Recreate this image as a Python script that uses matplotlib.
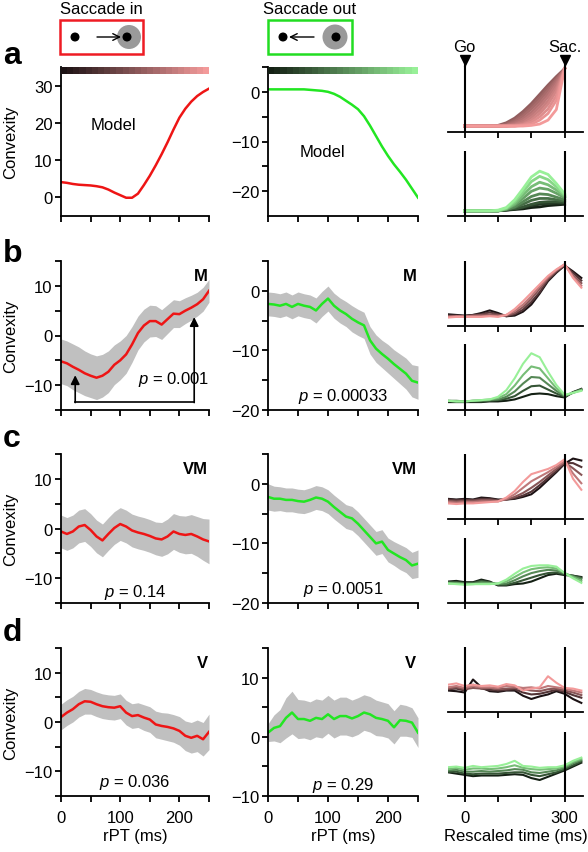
import numpy as np
import matplotlib
matplotlib.use("Agg")
import matplotlib.pyplot as plt
from matplotlib.colors import LinearSegmentedColormap
from matplotlib.patches import Rectangle, Circle

plt.rcParams['font.family'] = ['Liberation Sans', 'DejaVu Sans']
plt.rcParams.update({
    'font.size': 12, 'axes.linewidth': 1.3,
    'xtick.major.width': 1.3, 'ytick.major.width': 1.3,
    'xtick.minor.width': 1.3, 'ytick.minor.width': 1.3,
    'xtick.major.size': 4, 'ytick.major.size': 4,
    'xtick.minor.size': 4, 'ytick.minor.size': 4,
    'mathtext.fontset': 'custom', 'mathtext.rm': 'Liberation Sans',
    'mathtext.it': 'Liberation Sans:italic',
})
nan = np.nan

# ---- convexity vs rPT (ms) ----
rpt = list(range(0, 251, 10))

model_in = [4.1, 3.9, 3.6, 3.4, 3.3, 3.2, 3.0, 2.7, 2.1, 1.3, 0.6, -0.1, -0.1,
            1.0, 3.3, 5.8, 8.6, 11.6, 14.8, 18.2, 21.4, 23.8, 25.7, 27.2, 28.3, 29.2]
model_out = [0.5, 0.5, 0.5, 0.5, 0.5, 0.5, 0.5, 0.4, 0.3, 0.2, 0.0, -0.4, -1.0,
             -1.8, -2.6, -3.5, -4.9, -6.8, -8.9, -11.0, -12.9, -14.6, -16.1, -17.7, -19.5, -21.3]

m_in = [-5.2, -5.6, -6.3, -6.9, -7.6, -8.1, -8.5, -8.1, -7.3, -5.9, -5.0, -3.8, -1.8,
        0.5, 2.0, 2.9, 2.9, 2.2, 3.3, 4.4, 4.3, 5.0, 5.6, 6.3, 7.3, 9.0]
m_in_sem = [4.5, 4.5, 4.6, 4.6, 4.5, 4.4, 4.4, 4.3, 4.2, 4.0, 3.9, 3.8, 3.6,
            3.4, 3.3, 3.2, 3.1, 3.0, 2.9, 2.8, 2.7, 2.6, 2.5, 2.4, 2.4, 2.3]
m_out = [-2.2, -2.3, -2.5, -2.2, -2.7, -2.2, -2.5, -2.7, -3.3, -2.2, -1.3, -2.5, -3.3,
         -3.9, -4.7, -5.3, -5.8, -8.3, -9.7, -10.6, -11.4, -12.3, -13.1, -13.9, -15.1, -15.4]
m_out_sem = [2.0, 2.0, 2.0, 2.0, 2.0, 2.0, 2.0, 2.0, 2.1, 2.1, 2.1, 2.1, 2.1,
             2.1, 2.2, 2.2, 2.2, 2.3, 2.3, 2.3, 2.4, 2.4, 2.5, 2.6, 2.7, 2.8]

vm_in = [-0.6, -1.1, -0.6, 0.4, 0.7, -0.3, -1.6, -2.4, -1.1, 0.1, 0.9, 0.4, -0.4,
         -0.8, -1.1, -1.5, -2.0, -2.2, -1.6, -0.6, -1.1, -1.3, -1.1, -1.6, -2.2, -2.6]
vm_in_sem = [3.3, 3.3, 3.3, 3.3, 3.3, 3.3, 3.3, 3.3, 3.3, 3.3, 3.3, 3.3, 3.3,
             3.3, 3.3, 3.3, 3.3, 3.4, 3.5, 3.6, 3.7, 3.8, 3.9, 4.0, 4.2, 4.5]
vm_out = [-2.2, -2.5, -2.5, -2.7, -2.7, -2.9, -3.0, -2.7, -2.3, -2.5, -3.0, -3.9, -4.7,
          -5.5, -5.8, -6.7, -7.8, -8.9, -10.0, -9.7, -11.1, -11.7, -12.3, -12.8, -13.7, -13.4]
vm_out_sem = [2.2, 2.1, 2.0, 2.0, 2.0, 2.0, 2.0, 2.0, 2.0, 2.0, 2.0, 2.0, 2.0,
              2.0, 2.0, 2.0, 2.0, 2.0, 2.0, 2.0, 2.0, 2.0, 2.1, 2.1, 2.2, 2.3]

v_in = [1.0, 1.9, 2.6, 3.6, 4.2, 4.1, 3.6, 3.2, 3.0, 2.9, 3.2, 1.9, 1.2,
        1.4, 0.9, 0.5, -0.5, -0.8, -1.0, -1.3, -1.8, -2.8, -3.2, -2.8, -3.5, -2.0]
v_in_sem = [2.6, 2.6, 2.6, 2.6, 2.6, 2.5, 2.5, 2.5, 2.5, 2.5, 2.5, 2.5, 2.5,
            2.5, 2.6, 2.6, 2.7, 2.7, 2.8, 2.8, 2.9, 3.0, 3.1, 3.2, 3.4, 3.6]
v_out = [0.7, 1.5, 1.8, 3.2, 4.1, 3.0, 3.0, 2.7, 3.2, 3.0, 3.8, 3.0, 3.5,
         3.5, 3.1, 3.5, 4.1, 3.8, 3.2, 3.0, 2.7, 1.6, 2.8, 2.7, 2.4, 0.7]
v_out_sem = [1.5, 2.2, 2.8, 3.4, 3.6, 3.3, 3.2, 3.2, 3.2, 3.2, 3.2, 3.2, 3.2,
             3.2, 3.1, 3.1, 3.0, 3.0, 3.0, 2.9, 2.9, 2.8, 2.7, 2.6, 2.5, 2.5]

cell_types = ['M', 'VM', 'V']
p_in = ['0.001', '0.14', '0.036']
p_out = ['0.00033', '0.0051', '0.29']

# bracket with arrows in panel b (rPT, convexity)
arrow_x = [24, 225]
arrow_tip = [-8.0, 3.7]
bracket_y = -13.4

# ---- rescaled-time traces, normalised height, dark -> light ----
t_resc = [-50, -25, 0, 25, 50, 75, 100, 125, 150, 175, 200, 225, 250, 275, 300, 325, 350]

a_in = [
    [nan, nan, .09, .09, .09, .09, .10, .14, .21, .31, .43, .57, .71, .84, .96, nan, nan],
    [nan, nan, .09, .09, .09, .09, .09, .12, .18, .27, .39, .52, .67, .81, .96, nan, nan],
    [nan, nan, .09, .09, .09, .09, .09, .11, .16, .24, .35, .48, .63, .79, .96, nan, nan],
    [nan, nan, .09, .09, .09, .09, .09, .10, .14, .20, .30, .43, .58, .76, .96, nan, nan],
    [nan, nan, .09, .09, .09, .09, .09, .10, .12, .17, .26, .38, .53, .72, .96, nan, nan],
    [nan, nan, .09, .09, .09, .09, .09, .09, .11, .14, .22, .33, .47, .67, .96, nan, nan],
    [nan, nan, .09, .09, .09, .09, .09, .09, .10, .12, .18, .28, .42, .62, .96, nan, nan],
    [nan, nan, .09, .09, .09, .09, .09, .09, .09, .11, .15, .23, .35, .55, .96, nan, nan],
    [nan, nan, .09, .09, .09, .09, .09, .09, .09, .10, .12, .18, .28, .48, .96, nan, nan],
    [nan, nan, .09, .09, .09, .09, .09, .09, .09, .09, .10, .12, .18, .34, .96, nan, nan],
]
a_out = [
    [nan, nan, .08, .08, .08, .08, .08, .09, .10, .11, .13, .14, .16, .17, .18, nan, nan],
    [nan, nan, .08, .08, .08, .08, .08, .09, .11, .13, .16, .18, .19, .20, .20, nan, nan],
    [nan, nan, .08, .08, .08, .08, .08, .10, .11, .14, .18, .21, .22, .22, .21, nan, nan],
    [nan, nan, .08, .08, .08, .08, .08, .10, .13, .18, .24, .27, .27, .25, .23, nan, nan],
    [nan, nan, .08, .08, .08, .08, .08, .10, .14, .22, .30, .34, .33, .29, .25, nan, nan],
    [nan, nan, .08, .08, .08, .08, .08, .11, .17, .27, .38, .43, .41, .35, .28, nan, nan],
    [nan, nan, .08, .08, .08, .08, .08, .11, .19, .32, .45, .52, .48, .40, .30, nan, nan],
    [nan, nan, .08, .08, .08, .08, .08, .12, .22, .37, .53, .61, .56, .45, .32, nan, nan],
    [nan, nan, .08, .08, .08, .08, .09, .13, .25, .42, .60, .69, .64, .50, .34, nan, nan],
]
b_in = [
    [.18, .17, .16, .17, .20, .24, .20, .15, .16, .22, .33, .50, .69, .82, .93, .84, .74],
    [.16, .16, .15, .17, .18, .21, .18, .15, .18, .25, .37, .52, .71, .83, .93, .82, .70],
    [.15, .15, .15, .16, .17, .18, .17, .16, .20, .29, .42, .57, .73, .85, .94, .78, .66],
    [.14, .15, .15, .15, .15, .16, .15, .17, .23, .33, .46, .61, .75, .86, .95, .76, .62],
    [.13, .14, .14, .14, .14, .15, .14, .17, .26, .38, .51, .64, .77, .87, .95, .74, .59],
]
b_out = [
    [.12, .12, .12, .12, .12, .13, .13, .14, .16, .20, .24, .25, .24, .21, .19, .27, .32],
    [.13, .13, .13, .13, .13, .14, .15, .17, .21, .29, .36, .37, .31, .25, .20, .27, .31],
    [.14, .14, .13, .14, .14, .15, .16, .20, .28, .40, .50, .49, .39, .29, .21, .26, .31],
    [.14, .13, .13, .14, .15, .16, .18, .24, .37, .53, .66, .63, .48, .33, .22, .26, .30],
    [.14, .13, .13, .14, .15, .16, .20, .30, .48, .70, .86, .80, .58, .38, .23, .26, .29],
]
c_in = [
    [.31, .30, .31, .30, .33, .32, .30, .30, .31, .34, .38, .48, .60, .72, .85, .93, .90],
    [.30, .29, .30, .29, .31, .31, .29, .30, .32, .36, .42, .52, .63, .74, .86, .86, .80],
    [.28, .27, .28, .28, .29, .29, .28, .30, .34, .40, .48, .57, .67, .77, .87, .78, .68],
    [.26, .25, .26, .26, .27, .27, .27, .31, .38, .48, .58, .65, .72, .80, .89, .70, .55],
    [.24, .23, .24, .24, .25, .26, .27, .33, .43, .57, .69, .73, .77, .83, .92, .62, .45],
]
c_out = [
    [.33, .34, .32, .32, .36, .33, .27, .27, .29, .30, .33, .38, .43, .45, .43, .42, .40],
    [.32, .32, .31, .31, .34, .32, .28, .28, .31, .35, .39, .43, .46, .47, .44, .42, .39],
    [.31, .31, .30, .30, .32, .31, .29, .30, .35, .41, .46, .49, .51, .50, .45, .41, .37],
    [.30, .30, .29, .29, .30, .30, .30, .33, .40, .47, .52, .54, .55, .53, .46, .40, .34],
    [.30, .29, .28, .29, .29, .29, .30, .36, .45, .53, .57, .58, .58, .56, .46, .38, .31],
]
d_in = [
    [.33, .32, .30, .50, .38, .32, .31, .33, .33, .25, .20, .24, .27, .32, .28, .20, .14],
    [.35, .36, .33, .42, .36, .34, .33, .34, .35, .30, .27, .28, .31, .34, .31, .26, .22],
    [.36, .38, .35, .37, .36, .37, .35, .36, .37, .35, .33, .32, .35, .36, .33, .30, .26],
    [.38, .40, .37, .40, .38, .38, .37, .40, .39, .37, .38, .36, .40, .38, .36, .33, .30],
    [.42, .44, .40, .42, .40, .41, .39, .43, .41, .33, .36, .38, .55, .45, .37, .36, .33],
]
d_out = [
    [.37, .35, .33, .31, .32, .32, .32, .33, .34, .33, .28, .25, .30, .35, .40, .46, .52],
    [.38, .38, .35, .34, .35, .35, .35, .36, .37, .37, .33, .31, .34, .37, .42, .48, .54],
    [.40, .41, .38, .38, .39, .38, .39, .40, .42, .41, .37, .36, .38, .40, .44, .51, .56],
    [.42, .44, .41, .43, .43, .42, .43, .45, .48, .44, .42, .41, .42, .43, .46, .53, .58],
    [.45, .46, .44, .47, .45, .46, .47, .50, .55, .47, .46, .44, .45, .45, .48, .55, .60],
]

RED = '#ee1515'
GREEN = '#22e622'
BAND = '#c0c0c0'
red_cmap = LinearSegmentedColormap.from_list('rk', ['#1c1214', '#f39a9a'])
green_cmap = LinearSegmentedColormap.from_list('gk', ['#142014', '#98f098'])

W, H = 588, 853
fig = plt.figure(figsize=(W / 100, H / 100), dpi=100)


def add_ax(x0, y0, x1, y1):
    return fig.add_axes([x0 / W, 1 - y1 / H, (x1 - x0) / W, (y1 - y0) / H])


def style_trace_ax(ax, ylim, major, minor, last):
    ax.set_xlim(0, 250)
    ax.set_ylim(*ylim)
    ax.spines[['top', 'right']].set_visible(False)
    ax.set_yticks(major)
    ax.set_yticks(minor, minor=True)
    ax.set_xticks([0, 100, 200])
    ax.set_xticks([50, 150, 250], minor=True)
    ax.tick_params(which='both', direction='out', pad=2)
    ax.tick_params(axis='x', which='both', pad=6, labelbottom=last)
    if last:
        ax.set_xlabel('rPT (ms)', labelpad=2)


def style_small_ax(ax, curves, cmap, lo=0.0, last=False, lw=1.5):
    n = len(curves)
    for i, c in enumerate(curves):
        ax.plot(t_resc, c, color=cmap(lo + (1 - lo) * i / (n - 1)), lw=lw)
    for x in (0, 300):
        ax.plot([x, x], [0, 1], color='k', lw=1.5, zorder=5)
    ax.set_xlim(-50, 355)
    ax.set_ylim(0, 1)
    ax.spines[['top', 'right', 'left']].set_visible(False)
    ax.set_yticks([])
    ax.set_xticks([0, 100, 200, 300])
    ax.tick_params(axis='x', direction='out', pad=6, labelbottom=last)
    if last:
        ax.set_xticklabels(['0', '', '', '300'])
        ax.set_xlabel('Rescaled time (ms)', labelpad=2)


col1 = (61, 209)
col2 = (268, 418)
col3 = (448, 583)
big_rows = [(68, 217), (262, 411), (455, 604), (649, 797)]
small_rows = [((67, 133), (152, 217)), ((262, 327), (345, 411)),
              ((455, 520), (539, 604)), ((648, 713), (733, 797))]
YLAB_X = -0.29

# ---- row a: model ----
ax = add_ax(col1[0], big_rows[0][0], col1[1], big_rows[0][1])
ax.plot(rpt, model_in, color=RED, lw=1.8)
style_trace_ax(ax, (-5, 35), [0, 10, 20, 30], [], False)
ax.set_ylabel('Convexity')
ax.yaxis.set_label_coords(YLAB_X, 0.5)
ax.text(88, 19.6, 'Model', ha='center', va='center')
cb = ax.inset_axes([0, 0.953, 1, 0.047])
cb.imshow(np.linspace(0, 1, 24)[None, :], cmap=red_cmap, aspect='auto')
cb.axis('off')

ax = add_ax(col2[0], big_rows[0][0], col2[1], big_rows[0][1])
ax.plot(rpt, model_out, color=GREEN, lw=1.8)
style_trace_ax(ax, (-25, 5), [-20, -10, 0], [-15, -5, 5], False)
ax.text(90, -12.1, 'Model', ha='center', va='center')
cb = ax.inset_axes([0, 0.953, 1, 0.047])
cb.imshow(np.linspace(0, 1, 24)[None, :], cmap=green_cmap, aspect='auto')
cb.axis('off')

# ---- rows b-d: recorded neurons ----
in_data = [(m_in, m_in_sem), (vm_in, vm_in_sem), (v_in, v_in_sem)]
out_data = [(m_out, m_out_sem), (vm_out, vm_out_sem), (v_out, v_out_sem)]
out_ylims = [(-20, 5), (-20, 5), (-10, 15)]
out_major = [[-20, -10, 0], [-20, -10, 0], [-10, 0, 10]]
out_minor = [[-15, -5, 5], [-15, -5, 5], [-5, 5, 15]]
p_in_pos = [(1.0, 0.21, 'right'), (0.5, 0.08, 'center'), (0.5, 0.095, 'center')]
p_out_pos = [(0.5, 0.094, 'center'), (0.5, 0.094, 'center'), (0.5, 0.08, 'center')]

for k in range(3):
    r0, r1 = big_rows[k + 1]
    last = k == 2
    mean, sem = np.array(in_data[k][0]), np.array(in_data[k][1])
    ax = add_ax(col1[0], r0, col1[1], r1)
    ax.fill_between(rpt, mean - sem, mean + sem, color=BAND, lw=0)
    ax.plot(rpt, mean, color=RED, lw=1.8)
    style_trace_ax(ax, (-15, 15), [-10, 0, 10], [-15, -5, 5, 15], last)
    ax.set_ylabel('Convexity')
    ax.yaxis.set_label_coords(YLAB_X, 0.5)
    ax.text(0.99, 0.95, cell_types[k], transform=ax.transAxes, ha='right',
            va='top', fontweight='bold')
    px, py, ha = p_in_pos[k]
    ax.text(px, py, '$p$ = ' + p_in[k], transform=ax.transAxes, ha=ha, va='center')
    if k == 0:
        ax.plot([arrow_x[0], arrow_x[1]], [bracket_y, bracket_y], color='k', lw=1.2)
        for xa, ya in zip(arrow_x, arrow_tip):
            ax.annotate('', xy=(xa, ya), xytext=(xa, bracket_y - 0.1),
                        arrowprops=dict(arrowstyle='-|>', color='k', lw=1.2,
                                        mutation_scale=13, shrinkA=0, shrinkB=0))

    mean, sem = np.array(out_data[k][0]), np.array(out_data[k][1])
    ax = add_ax(col2[0], r0, col2[1], r1)
    ax.fill_between(rpt, mean - sem, mean + sem, color=BAND, lw=0)
    ax.plot(rpt, mean, color=GREEN, lw=1.8)
    style_trace_ax(ax, out_ylims[k], out_major[k], out_minor[k], last)
    ax.text(0.99, 0.95, cell_types[k], transform=ax.transAxes, ha='right',
            va='top', fontweight='bold')
    px, py, ha = p_out_pos[k]
    ax.text(px, py, '$p$ = ' + p_out[k], transform=ax.transAxes, ha=ha, va='center')

# ---- column 3: rescaled-time traces ----
small_sets = [(a_in, a_out), (b_in, b_out), (c_in, c_out), (d_in, d_out)]
for k, (cin, cout) in enumerate(small_sets):
    (t0, t1), (b0, b1) = small_rows[k]
    lw = 2.0 if k == 0 else 1.5
    ax_top = add_ax(col3[0], t0, col3[1], t1)
    style_small_ax(ax_top, cin, red_cmap, lo=0.55 if k == 0 else 0.0, lw=lw)
    ax_bot = add_ax(col3[0], b0, col3[1], b1)
    style_small_ax(ax_bot, cout, green_cmap, last=(k == 3), lw=lw)
    if k == 0:
        for x, lab in ((0, 'Go'), (300, 'Sac.')):
            ax_top.plot([x, x], [1, 1.09], color='k', lw=1.5, clip_on=False)
            ax_top.plot([x], [1.09], marker='v', color='k', ms=7, clip_on=False)
            ax_top.text(x, 1.3, lab, ha='center', va='center')

# ---- overlay: panel letters and task icons (pixel coordinates) ----
ov = fig.add_axes([0, 0, 1, 1])
ov.set_xlim(0, W)
ov.set_ylim(H, 0)
ov.axis('off')
for lab, yb in zip('abcd', [64, 262, 447, 641]):
    ov.text(3, yb, lab, fontsize=23, fontweight='bold', va='baseline', ha='left')

ov.text(101, 9, 'Saccade in', ha='center', va='center')
ov.add_patch(Rectangle((60, 21), 83, 34, fill=False, ec='#ee1c24', lw=1.8))
ov.add_patch(Circle((129, 38), 12, color='#9a9a9a', lw=0))
ov.add_patch(Circle((75, 38), 3.8, color='k'))
ov.add_patch(Circle((127, 38), 3.8, color='k'))
ov.annotate('', xy=(121, 38), xytext=(97, 38),
            arrowprops=dict(arrowstyle='->', color='k', lw=1.0, shrinkA=0, shrinkB=0))

ov.text(310, 9, 'Saccade out', ha='center', va='center')
ov.add_patch(Rectangle((268, 21), 84, 34, fill=False, ec='#22dd22', lw=1.8))
ov.add_patch(Circle((335, 38), 12.5, color='#9a9a9a', lw=0))
ov.add_patch(Circle((283, 38), 3.8, color='k'))
ov.add_patch(Circle((336, 38), 3.8, color='k'))
ov.annotate('', xy=(289, 38), xytext=(314, 38),
            arrowprops=dict(arrowstyle='->', color='k', lw=1.0, shrinkA=0, shrinkB=0))

fig.savefig('out.png', dpi=100)
